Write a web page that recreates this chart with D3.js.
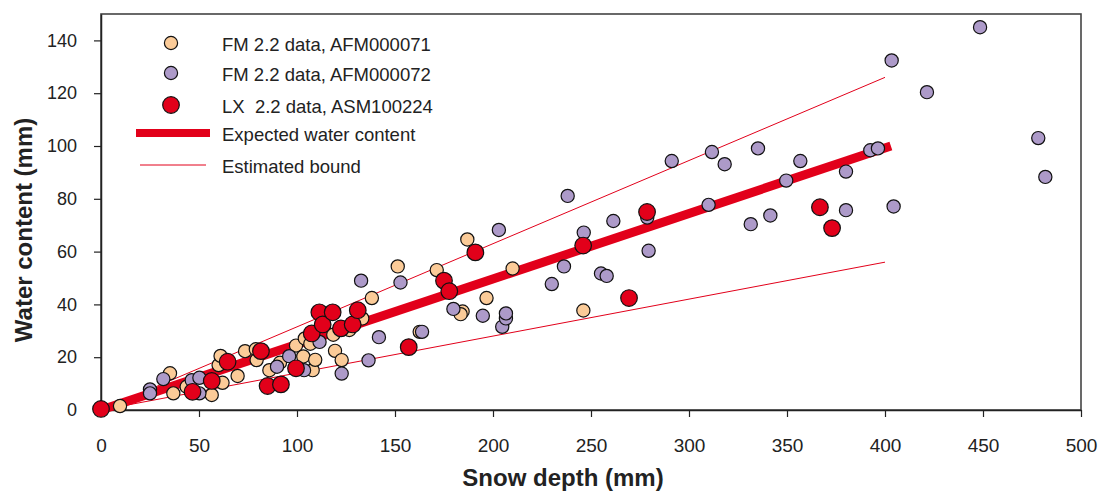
<!DOCTYPE html>
<html>
<head>
<meta charset="utf-8">
<script src="https://cdn.jsdelivr.net/npm/d3@7"></script>
<style>
  body { margin: 0; background: #fff; }
  text { font-family: "Liberation Sans", Arial, sans-serif; fill: #222; }
</style>
</head>
<body>
<div id="chart"></div>
<script>
// frame and margins
const FRAME_WIDTH = 1099;
const FRAME_HEIGHT = 491;
const MARGINS = {left: 101, right: 18, top: 14, bottom: 81};

// data: [snow depth, water content]
const fm71 = [[9.7,1.5],[35.2,13.9],[36.9,6.3],[43.7,8.8],[56.5,5.7],[60,17],[61,20.5],[62,10.3],
  [69.7,12.9],[73.5,22.3],[79,23],[79.4,18.9],[85.9,15.1],[91.3,17.9],[99.5,24.4],[103.2,20.3],
  [104,27.1],[106.8,25.1],[108,15.1],[109.3,19],[118.5,28.5],[119.4,22.4],[122.8,18.9],[126.7,30.3],
  [133.3,34.7],[138.2,42.4],[151.4,54.4],[162.6,29.6],[171.3,53],[184.5,37.3],[183.5,36.3],
  [186.9,64.6],[196.7,42.4],[210,53.6],[246.1,37.7]];

const fm72 = [[25,7.8],[25,6.3],[31.8,11.7],[46.3,11.3],[50.2,12.2],[50.2,6.3],[89.8,16.4],[96,20.4],
  [103.6,15.1],[111.5,25.8],[122.8,13.8],[132.7,49],[136.5,18.8],[141.8,27.6],[152.8,48.3],
  [163.8,29.6],[179.8,38.3],[194.8,35.7],[203,68.2],[204.7,31.5],[206.6,34.7],[206.6,36.6],
  [230,47.7],[236.2,54.4],[238.1,81.1],[246.3,67.2],[255.1,51.7],[258,50.8],[261.4,71.6],
  [278.7,72.9],[279.4,60.3],[291.2,94.3],[310,77.7],[311.7,97.7],[318.2,93.1],[331.5,70.4],
  [335.2,99.1],[341.5,73.7],[349.6,86.9],[356.8,94.3],[380.1,90.3],[380.1,75.7],[392.5,98.4],
  [396.4,99.1],[403.4,132.4],[404.4,77.1],[421.4,120.4],[448.5,145],[478.2,103],[481.8,88.3]];

const lx224 = [[0,0.4],[46.7,6.9],[56.5,11],[64.6,18.3],[81.6,22.3],[85,9.1],[91.8,9.7],[99.5,15.8],
  [107.5,29],[111.4,37],[113.1,32.4],[118.2,37],[122.4,30.9],[128.4,32.4],[131,37.8],[157,23.8],
  [175,49],[177.7,45],[191,59.7],[246,62.3],[269.4,42.4],[278.6,75],[366.8,76.8],[373,68.9]];

const expectedLine = [[0,0],[403,100]];
const upperBound = [[0,0],[400,126]];
const lowerBound = [[0,0],[400,56]];

const xTicks = [0,50,100,150,200,250,300,350,400,450,500];
const yTicks = [0,20,40,60,80,100,120,140];
const legendLabels = ["FM 2.2 data, AFM000071", "FM 2.2 data, AFM000072", "LX  2.2 data, ASM100224",
  "Expected water content", "Estimated bound"];

const ORANGE = "#FBCB98";
const PURPLE = "#AD9AC9";
const RED = "#E2001A";

const svg = d3.select("#chart")
  .append("svg")
  .attr("width", FRAME_WIDTH)
  .attr("height", FRAME_HEIGHT);

const xScale = d3.scaleLinear()
  .domain([0, 500])
  .range([MARGINS.left, FRAME_WIDTH - MARGINS.right]);
const yScale = d3.scaleLinear()
  .domain([0, 150])
  .range([FRAME_HEIGHT - MARGINS.bottom, MARGINS.top]);

// box around the plot
svg.append("rect")
  .attr("x", xScale(0)).attr("y", yScale(150))
  .attr("width", xScale(500) - xScale(0))
  .attr("height", yScale(0) - yScale(150))
  .attr("fill", "none")
  .attr("stroke", "#444")
  .attr("stroke-width", 1.6);

// axes
const xAxis = svg.append("g")
  .attr("transform", "translate(0," + yScale(0) + ")")
  .call(d3.axisBottom(xScale).tickValues(xTicks).tickSize(7).tickSizeOuter(0).tickPadding(22));
const yAxis = svg.append("g")
  .attr("transform", "translate(" + xScale(0) + ",0)")
  .call(d3.axisLeft(yScale).tickValues(yTicks).tickSize(7).tickSizeOuter(0).tickPadding(17));

[xAxis, yAxis].forEach(g => {
  g.select(".domain").attr("stroke", "#222").attr("stroke-width", 1.5);
  g.selectAll(".tick line").attr("stroke", "#222").attr("stroke-width", 1.2);
  g.selectAll(".tick text").attr("fill", "#222")
    .style("font-family", '"Liberation Sans", Arial, sans-serif');
});
xAxis.selectAll(".tick text").style("font-size", "19px");
yAxis.selectAll(".tick text").style("font-size", "18px");

// axis titles
svg.append("text")
  .attr("x", 563).attr("y", 486)
  .attr("text-anchor", "middle")
  .style("font-size", "24px").style("font-weight", "bold")
  .text("Snow depth (mm)");
svg.append("text")
  .attr("transform", "translate(32,230) rotate(-90)")
  .attr("text-anchor", "middle")
  .style("font-size", "24px").style("font-weight", "bold")
  .text("Water content (mm)");

// lines
const line = d3.line().x(d => xScale(d[0])).y(d => yScale(d[1]));
svg.append("path").datum(upperBound)
  .attr("d", line).attr("stroke", RED).attr("stroke-width", 1).attr("fill", "none");
svg.append("path").datum(lowerBound)
  .attr("d", line).attr("stroke", RED).attr("stroke-width", 1).attr("fill", "none");
svg.append("path").datum(expectedLine)
  .attr("d", line).attr("stroke", RED).attr("stroke-width", 9).attr("fill", "none");

// points
function drawPoints(data, color, r) {
  svg.append("g").selectAll("circle")
    .data(data)
    .enter()
    .append("circle")
      .attr("cx", d => xScale(d[0]))
      .attr("cy", d => yScale(d[1]))
      .attr("r", r)
      .attr("fill", color)
      .attr("stroke", "#111")
      .attr("stroke-width", 1.2);
}
drawPoints(fm71, ORANGE, 6.6);
drawPoints(fm72, PURPLE, 6.6);
drawPoints(lx224, RED, 8.3);

// legend
const legend = svg.append("g");
const legendY = [43, 73, 105, 133, 165];
[[ORANGE, 6.6], [PURPLE, 6.6], [RED, 8.3]].forEach((m, i) => {
  legend.append("circle")
    .attr("cx", 171).attr("cy", legendY[i]).attr("r", m[1])
    .attr("fill", m[0]).attr("stroke", "#111").attr("stroke-width", 1.2);
});
legend.append("line")
  .attr("x1", 136).attr("x2", 210).attr("y1", legendY[3]).attr("y2", legendY[3])
  .attr("stroke", RED).attr("stroke-width", 8);
legend.append("line")
  .attr("x1", 140).attr("x2", 206).attr("y1", legendY[4]).attr("y2", legendY[4])
  .attr("stroke", RED).attr("stroke-width", 1);
legend.selectAll(".lbl")
  .data(legendLabels)
  .enter()
  .append("text")
    .attr("x", 222)
    .attr("y", (d, i) => legendY[i] + 8)
    .attr("xml:space", "preserve")
    .style("white-space", "pre")
    .style("font-size", "18.5px")
    .text(d => d);
</script>
</body>
</html>
